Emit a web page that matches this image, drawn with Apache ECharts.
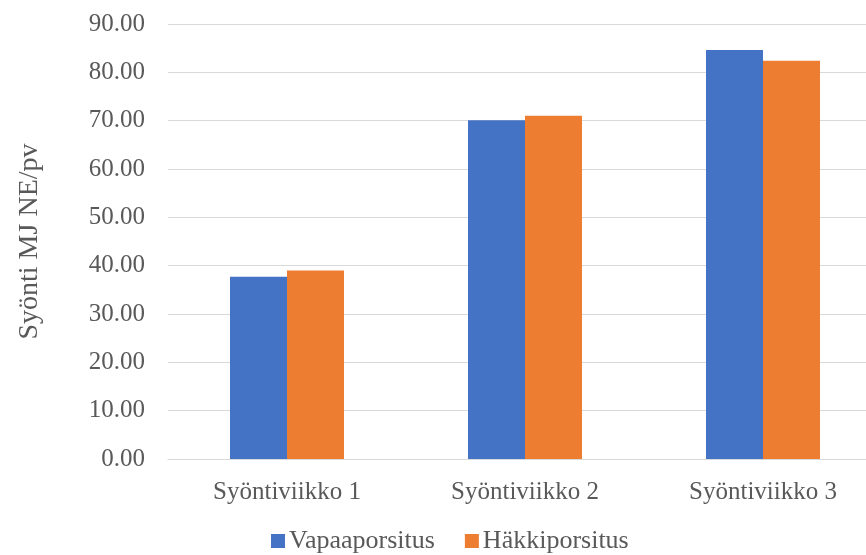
<!DOCTYPE html>
<html>
<head>
<meta charset="utf-8">
<script src="https://cdn.jsdelivr.net/npm/echarts@6/dist/echarts.min.js"></script>
<style>
  html, body { margin: 0; padding: 0; background: #fff; overflow: hidden; }
  /* the plot area runs a little past the right edge of the window */
  #chart { width: 890px; height: 555px; }
</style>
</head>
<body>
<div id="chart"></div>
<script>
// Feed intake per week for the two farrowing systems
const categories = ['Syöntiviikko 1', 'Syöntiviikko 2', 'Syöntiviikko 3'];
const vapaaporsitus = [37.7, 70.1, 84.6];
const hakkiporsitus = [39.0, 71.0, 82.4];
const seriesNames = ['Vapaaporsitus', 'Häkkiporsitus'];
const yAxisTitle = 'Syönti MJ NE/pv';

const font = '"Liberation Serif", "DejaVu Serif", serif';
const textColor = '#595959';

const chart = echarts.init(document.getElementById('chart'), null, { renderer: 'canvas' });
chart.setOption({
  backgroundColor: '#ffffff',
  animation: false,
  textStyle: { fontFamily: font },
  grid: { left: 168, top: 24, width: 714, height: 435, containLabel: false },
  legend: {
    data: seriesNames,
    top: 523,
    left: 266,
    itemWidth: 14,
    itemHeight: 14,
    itemGap: 30,
    icon: 'rect',
    textStyle: { fontFamily: font, fontSize: 26, color: textColor, padding: [0, 0, 0, -1] }
  },
  xAxis: {
    type: 'category',
    data: categories,
    axisLine: { lineStyle: { color: '#d9d9d9', width: 1 } },
    axisTick: { show: false },
    axisLabel: { fontFamily: font, fontSize: 25, color: textColor, margin: 21 }
  },
  yAxis: {
    type: 'value',
    min: 0,
    max: 90,
    interval: 10,
    name: yAxisTitle,
    nameLocation: 'middle',
    nameGap: 124,
    nameRotate: 90,
    nameTextStyle: { fontFamily: font, fontSize: 28, color: textColor },
    axisLine: { show: false },
    axisTick: { show: false },
    axisLabel: {
      fontFamily: font, fontSize: 25, color: textColor, margin: 23,
      formatter: v => v.toFixed(2)
    },
    splitLine: { lineStyle: { color: '#d9d9d9', width: 1 } }
  },
  series: [
    {
      name: seriesNames[0],
      type: 'bar',
      data: vapaaporsitus,
      barWidth: 57,
      barGap: '0%',
      itemStyle: { color: '#4472C4' }
    },
    {
      name: seriesNames[1],
      type: 'bar',
      data: hakkiporsitus,
      barWidth: 57,
      itemStyle: { color: '#ED7D31' }
    }
  ]
});
</script>
</body>
</html>
